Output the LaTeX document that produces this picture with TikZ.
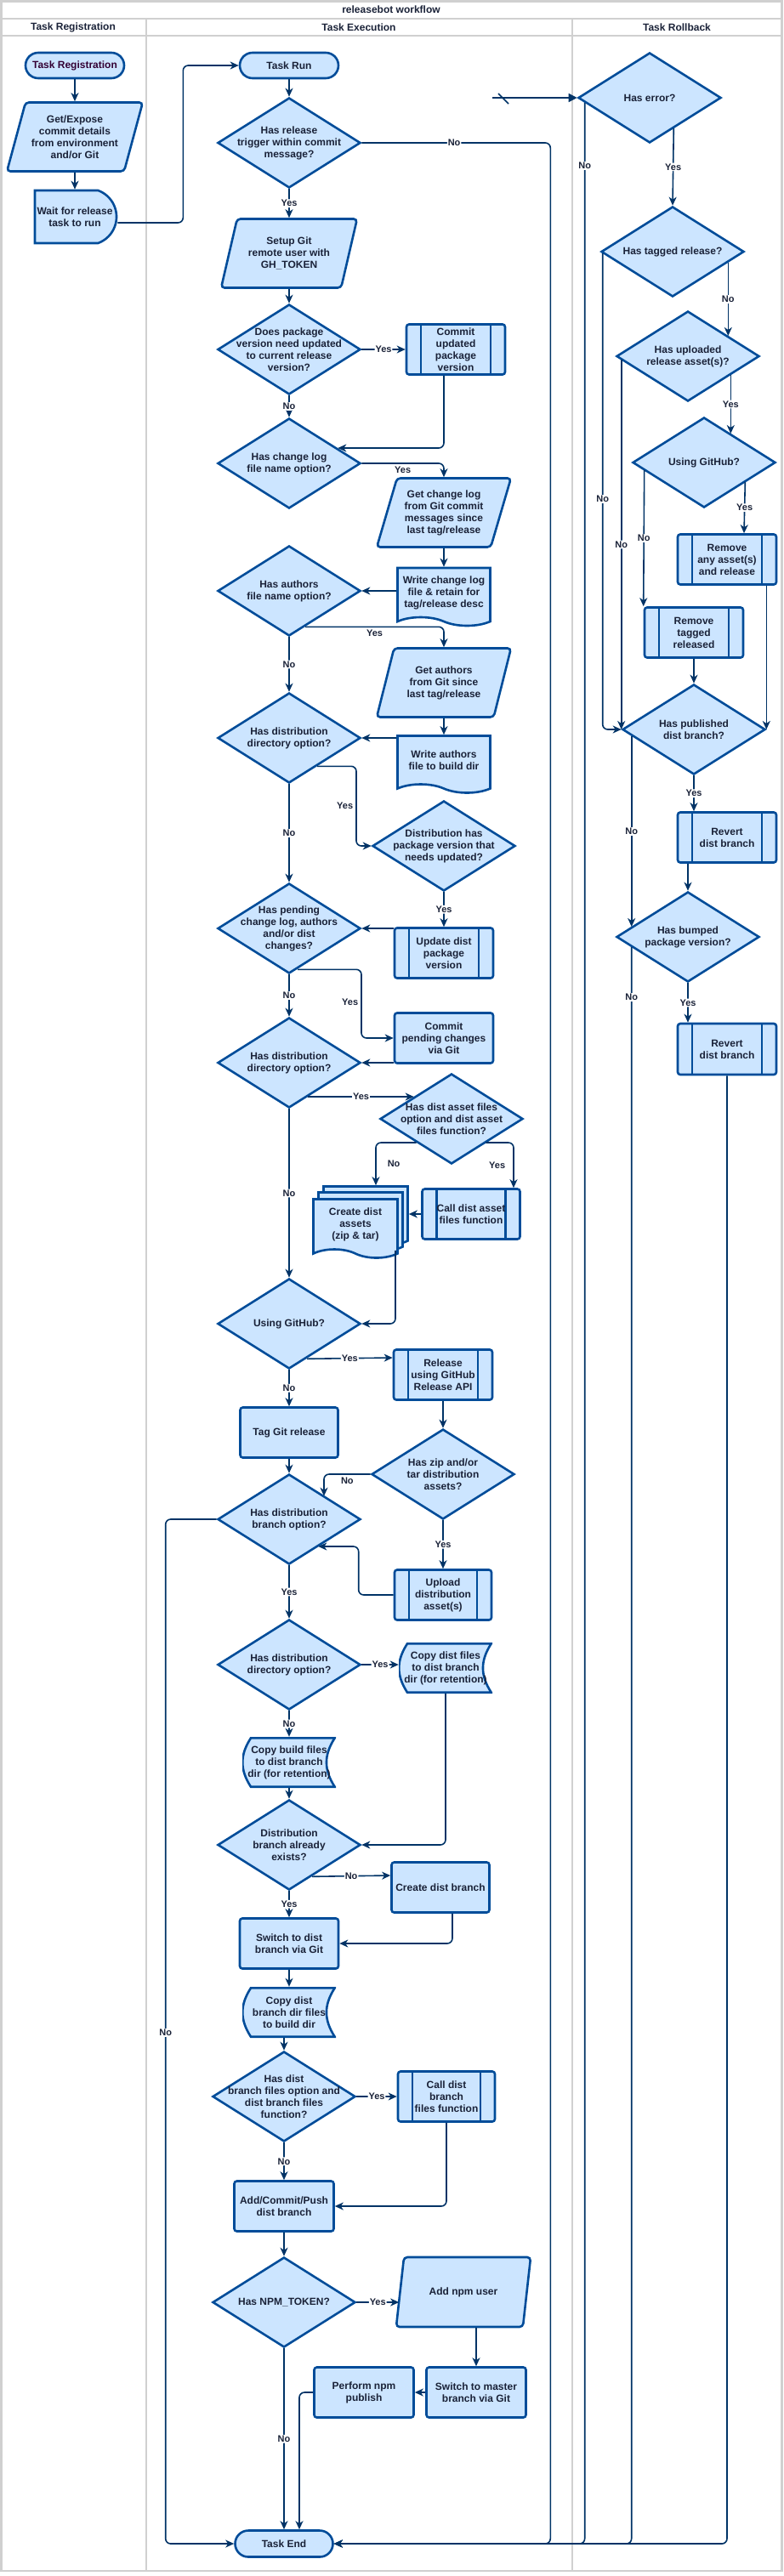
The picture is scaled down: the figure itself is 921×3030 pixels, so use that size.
\documentclass[tikz,border=0pt]{standalone}
\usepackage{fontspec}
\setmainfont{Liberation Sans}
\usetikzlibrary{calc,positioning,shapes.geometric,shapes.misc,shapes.symbols,arrows.meta}

\definecolor{nodefill}{HTML}{CCE5FF}
\definecolor{nodeline}{HTML}{004C99}
\definecolor{wirecol}{HTML}{003366}
\definecolor{textcol}{HTML}{1A2238}
\definecolor{startcol}{HTML}{330033}
\definecolor{lanegray}{HTML}{D0D0D0}

\newcommand{\flowfont}{\fontsize{12}{14}\selectfont\bfseries}
\newcommand{\edgefont}{\fontsize{11}{13}\selectfont\bfseries}

\tikzset{
  box/.style={draw=nodeline, fill=nodefill, line width=2.6pt, text=textcol, font=\flowfont, align=center, inner sep=2pt},
  terminal/.style={box, rounded rectangle, minimum width=120pt, minimum height=30pt},
  delaybox/.style={box, rounded rectangle, rounded rectangle left arc=none, rounded rectangle arc length=140, minimum width=100pt, minimum height=62pt},
  task/.style={box, rectangle, rounded corners=3pt, minimum width=116pt, minimum height=59pt},
  subtask/.style={task, path picture={
      \draw[nodeline, line width=2.6pt]
        ([xshift=17pt]path picture bounding box.north west) -- ([xshift=17pt]path picture bounding box.south west)
        ([xshift=-17pt]path picture bounding box.north east) -- ([xshift=-17pt]path picture bounding box.south east);}},
  datain/.style={box, trapezium, trapezium left angle=70, trapezium right angle=110, trapezium stretches=true, rounded corners=4pt, minimum width=160pt, minimum height=81pt},
  docbox/.style={box, tape, tape bend top=none, tape bend bottom=out and in, tape bend height=10pt, minimum width=109pt, minimum height=68pt},
  storebox/.style={rectangle, text=textcol, font=\flowfont, align=center, inner sep=2pt, minimum width=110pt, minimum height=60pt, path picture={
      \draw[draw=nodeline, fill=nodefill, line width=2.6pt]
        ([shift={(10pt,-1.3pt)}]path picture bounding box.north west) -- ([shift={(-1.3pt,-1.3pt)}]path picture bounding box.north east)
        .. controls +(-13pt,-20pt) and +(-13pt,20pt) .. ([shift={(-1.3pt,1.3pt)}]path picture bounding box.south east)
        -- ([shift={(10pt,1.3pt)}]path picture bounding box.south west)
        .. controls +(-13pt,20pt) and +(-13pt,-20pt) .. ([shift={(10pt,-1.3pt)}]path picture bounding box.north west) -- cycle;}},
  decision/.style={box, diamond, minimum width=168pt, minimum height=106pt, inner sep=0pt},
  qtext/.style={text=textcol, font=\flowfont, align=center},
  flow/.style={draw=wirecol, line width=1.6pt, rounded corners=6pt, -{Stealth[length=10pt,width=9pt,inset=3pt]}},
  wire/.style={draw=wirecol, line width=1.6pt},
  lbl/.style={fill=white, text=textcol, font=\edgefont, inner sep=1pt},
  lane/.style={draw=lanegray, line width=2.5pt},
  lanehead/.style={text=textcol, font=\flowfont},
}

\begin{document}
\begin{tikzpicture}[x=1pt, y=-1pt]

    \useasboundingbox (0,0) rectangle (921,3030);

    % swimlanes
    \draw[lane] (1.5,1.5) rectangle (919.5,3024);
    \draw[lane] (1.5,22) -- (919.5,22);
    \draw[lane] (1.5,42) -- (919.5,42);
    \draw[lane] (172,22) -- (172,3024);
    \draw[lane] (673,22) -- (673,3024);

    \node[lanehead] (title) at (460,11) {releasebot workflow};
    \node[lanehead] (hreg) at (86,32) {Task Registration};
    \node[lanehead] (hexec) at (422,32) {Task Execution};
    \node[lanehead] (hroll) at (796,32) {Task Rollback};

    % registration lane
    \node[terminal, text=startcol] (treg) at (88,77) {Task Registration};
    \node[datain] (getexp) at (88,161) {Get/Expose\\commit details\\from environment\\and/or Git};
    \node[delaybox] (waitrel) at (88,255) {Wait for release\\task to run};

    % execution lane
    \node[terminal] (taskrun) at (340,77) {Task Run};
    \node[decision, label={[qtext]center:{Has release\\trigger within commit\\message?}}] (q_trigger) at (340,168) {};
    \node[datain] (setupgit) at (340,298) {Setup Git\\remote user with\\GH\_TOKEN};
    \node[decision, label={[qtext]center:{Does package\\version need updated\\to current release\\version?}}] (q_pkgver) at (340,411) {};
    \node[subtask] (commitver) at (536,411) {Commit\\updated\\package\\version};
    \node[decision, label={[qtext]center:{Has change log\\file name option?}}] (q_changelog) at (340,545) {};
    \node[datain, minimum width=158pt] (getcl) at (522,603) {Get change log\\from Git commit\\messages since\\last tag/release};
    \node[docbox] (writecl) at (522,697) {Write change log\\file \& retain for\\tag/release desc};
    \node[decision, label={[qtext]center:{Has authors\\file name option?}}] (q_authors) at (340,695) {};
    \node[datain, minimum width=158pt] (getauth) at (522,803) {Get authors\\from Git since\\last tag/release};
    \node[docbox, minimum height=67pt] (writeauth) at (522,894) {Write authors\\file to build dir};
    \node[decision, label={[qtext]center:{Has distribution\\directory option?}}] (q_distdir) at (340,868) {};
    \node[decision, label={[qtext]center:{Distribution has\\package version that\\needs updated?}}] (q_distver) at (522,995) {};
    \node[decision, label={[qtext]center:{Has pending\\change log, authors\\and/or dist\\changes?}}] (q_pending) at (340,1092) {};
    \node[subtask] (updver) at (522,1121) {Update dist\\package\\version};
    \node[task] (commitpend) at (522,1221) {Commit\\pending changes\\via Git};
    \node[decision, label={[qtext]center:{Has distribution\\directory option?}}] (q_distdir2) at (340,1250) {};
    \node[decision, label={[qtext]center:{Has dist asset files\\option and dist asset\\files function?}}] (q_assets) at (531,1316) {};
    \node[docbox, minimum width=99pt, minimum height=69pt] (assetsback) at (430,1425) {};
    \node[docbox, minimum width=99pt, minimum height=69pt] (assetsmid) at (424,1432) {};
    \node[docbox, minimum width=99pt, minimum height=69pt] (createassets) at (418,1440) {Create dist\\assets\\(zip \& tar)};
    \node[subtask, minimum width=115pt] (callassets) at (554,1428) {Call dist asset\\files function};
    \node[decision, label={[qtext]center:{Using GitHub?}}] (q_github) at (340,1557) {};
    \node[subtask] (relapi) at (521,1617) {Release\\using GitHub\\Release API};
    \node[task, minimum width=115pt] (taggit) at (340,1685) {Tag Git release};
    \node[decision, label={[qtext]center:{Has zip and/or\\tar distribution\\assets?}}] (q_zip) at (521,1734) {};
    \node[decision, label={[qtext]center:{Has distribution\\branch option?}}] (q_distbranch) at (340,1787) {};
    \node[subtask, minimum width=114pt] (upload) at (521,1876) {Upload\\distribution\\asset(s)};
    \node[decision, label={[qtext]center:{Has distribution\\directory option?}}] (q_distdir3) at (340,1958) {};
    \node[storebox] (copydist) at (524,1962) {Copy dist files\\to dist branch\\dir (for retention)};
    \node[storebox] (copybuild) at (340,2073) {Copy build files\\to dist branch\\dir (for retention)};
    \node[decision, label={[qtext]center:{Distribution\\branch already\\exists?}}] (q_exists) at (340,2170) {};
    \node[task, minimum width=115pt] (createbranch) at (518,2220) {Create dist branch};
    \node[task] (switchdist) at (340,2286) {Switch to dist\\branch via Git};
    \node[storebox] (copydistdir) at (340,2367) {Copy dist\\branch dir files\\to build dir};
    \node[decision, label={[qtext]center:{Has dist\\branch files option and\\dist branch files\\function?}}] (q_branchfiles) at (334,2466) {};
    \node[subtask, minimum width=114pt] (callbranch) at (525,2466) {Call dist\\branch\\files function};
    \node[task, minimum width=117pt] (addcommit) at (334,2595) {Add/Commit/Push\\dist branch};
    \node[decision, label={[qtext]center:{Has NPM\_TOKEN?}}] (q_npm) at (334,2708) {};
    \node[datain, minimum width=159pt, minimum height=82pt] (addnpm) at (545,2696) {Add npm user};
    \node[task, minimum width=117pt] (switchmaster) at (560,2814) {Switch to master\\branch via Git};
    \node[task, minimum width=117pt] (performnpm) at (428,2814) {Perform npm\\publish};
    \node[terminal, minimum width=119pt, minimum height=31pt] (taskend) at (334,2992) {Task End};

    % rollback lane
    \node[decision, label={[qtext]center:{Has error?}}] (q_error) at (764,115) {};
    \node[decision, label={[qtext]center:{Has tagged release?}}] (q_tagged) at (791,296) {};
    \node[decision, label={[qtext]center:{Has uploaded\\release asset(s)?}}] (q_uploaded) at (809,419) {};
    \node[decision, label={[qtext]center:{Using GitHub?}}] (q_using) at (828,544) {};
    \node[subtask] (remove_assets) at (855,658) {Remove\\any asset(s)\\and release};
    \node[subtask] (remove_tag) at (816,744) {Remove\\tagged\\released};
    \node[decision, label={[qtext]center:{Has published\\dist branch?}}] (q_published) at (816,858) {};
    \node[subtask] (revert1) at (855,985) {Revert\\dist branch};
    \node[decision, label={[qtext]center:{Has bumped\\package version?}}] (q_bumped) at (809,1102) {};
    \node[subtask, minimum height=60pt] (revert2) at (855,1234) {Revert\\dist branch};

    % registration flow
    \draw[flow] (treg.south) -- (treg.south |- getexp.north);
    \draw[flow] (getexp.center |- getexp.south) -- (waitrel.north);
    \draw[flow] ($(waitrel.east)+(0,7)$) -- ++(77,0) |- (taskrun.west);

    % execution flow
    \draw[flow] (taskrun.south) -- (q_trigger.north);
    \draw[flow] (q_trigger.east) -- node[lbl, pos=0.49]{No} ++(222,0) |- (taskend.east);
    \draw[flow] (q_trigger.south) -- node[lbl]{Yes} (q_trigger.south |- setupgit.north);
    \draw[flow] (setupgit.center |- setupgit.south) -- (q_pkgver.north);
    \draw[flow] (q_pkgver.east) -- node[lbl]{Yes} (commitver.west);
    \draw[flow] (q_pkgver.south) -- node[lbl]{No} (q_changelog.north);
    \draw[flow] ($(commitver.south)+(-14,0)$) |- ($(q_changelog.east)+(-28,-18)$);
    \draw[flow] (q_changelog.east) -| node[lbl, pos=0.25, below=2pt, fill=none]{Yes} (getcl.center |- getcl.north);
    \draw[flow] (getcl.center |- getcl.south) -- (writecl.north);
    \draw[flow] (writecl.west |- q_authors.east) -- (q_authors.east);
    \draw[flow] (q_authors.south) -- node[lbl]{No} (q_distdir.north);
    \draw[flow] ($(q_authors.south)+(19,-12)$) -| node[lbl, pos=0.25, below=2pt, fill=none]{Yes} (getauth.center |- getauth.north);
    \draw[flow] (getauth.center |- getauth.south) -- (writeauth.north);
    \draw[flow] (writeauth.west |- q_distdir.east) -- (q_distdir.east);
    \draw[flow] ($(q_distdir.south)+(33,-21)$) -- ++(46,0) |- node[lbl, pos=0.25, left=2pt, fill=none]{Yes} (q_distver.west);
    \draw[flow] (q_distdir.south) -- node[lbl]{No} (q_pending.north);
    \draw[flow] (q_distver.south) -- node[lbl]{Yes} (updver.north);
    \draw[flow] (updver.west |- q_pending.east) -- (q_pending.east);
    \draw[flow] ($(q_pending.south)+(10,-6)$) -- ++(75,0) |- node[lbl, pos=0.24, left=2pt, fill=none]{Yes} (commitpend.west);
    \draw[flow] (q_pending.south) -- node[lbl]{No} (q_distdir2.north);
    \draw[flow] (commitpend.west |- q_distdir2.east) -- (q_distdir2.east);
    \draw[flow] ($(q_distdir2.east)+(-63,40)$) -- node[lbl]{Yes} ($(q_assets.west)+(41,-26)$);
    \draw[flow] (q_distdir2.south) -- node[lbl]{No} (q_github.north);
    \draw[flow] ($(q_assets.west)+(44,28)$) -| node[lbl, pos=0.75, right=12pt, fill=none]{No} ($(assetsback.north)+(12,0)$);
    \draw[flow] ($(q_assets.east)+(-45,28)$) -| node[lbl, pos=0.75, left=8pt, fill=none]{Yes} ($(callassets.north)+(50,0)$);
    \draw[flow] (callassets.west) -- (callassets.west -| assetsback.east);
    \draw[flow] ($(createassets.south)+(47,0)$) |- (q_github.east);
    \draw[flow] ($(q_github.south)+(21,-13)$) -- node[lbl]{Yes} ($(relapi.west)+(0,-20)$);
    \draw[flow] (q_github.south) -- node[lbl]{No} (taggit.north);
    \draw[flow] (relapi.south) -- (q_zip.north);
    \draw[flow] (taggit.south) -- (q_distbranch.north);
    \draw[flow] (q_zip.west) -| node[lbl, pos=0.25, below=2pt, fill=none]{No} ($(q_distbranch.north)+(41,27)$);
    \draw[flow] (q_zip.south) -- node[lbl]{Yes} (upload.north);
    \draw[flow] (upload.west) -- ++(-41,0) |- ($(q_distbranch.east)+(-51,32)$);
    \draw[flow] (q_distbranch.west) -| ++(-60,604) node[lbl]{No} |- (taskend.west);
    \draw[flow] (q_distbranch.south) -- node[lbl]{Yes} (q_distdir3.north);
    \draw[flow] (q_distdir3.east) -- node[lbl]{Yes} (q_distdir3.east -| copydist.west);
    \draw[flow] (copydist.south) |- (q_exists.east);
    \draw[flow] (q_distdir3.south) -- node[lbl]{No} (copybuild.north);
    \draw[flow] (copybuild.south) -- (q_exists.north);
    \draw[flow] ($(q_exists.south)+(27,-17)$) -- node[lbl]{No} ($(createbranch.west)+(0,-14)$);
    \draw[flow] (q_exists.south) -- node[lbl]{Yes} (switchdist.north);
    \draw[flow] ($(createbranch.south)+(14,0)$) |- (switchdist.east);
    \draw[flow] (switchdist.south) -- (copydistdir.north);
    \draw[flow] (q_branchfiles.north |- copydistdir.south) -- (q_branchfiles.north);
    \draw[flow] (q_branchfiles.east) -- node[lbl]{Yes} (callbranch.west);
    \draw[flow] (callbranch.south) |- (addcommit.east);
    \draw[flow] (q_branchfiles.south) -- node[lbl]{No} (addcommit.north);
    \draw[flow] (addcommit.south) -- (q_npm.north);
    \draw[flow] (q_npm.east) -- node[lbl]{Yes} (q_npm.east -| addnpm.west);
    \draw[flow] (switchmaster.north |- addnpm.south) -- (switchmaster.north);
    \draw[flow] (switchmaster.west) -- (performnpm.east);
    \draw[flow] (performnpm.west) -| ($(taskend.north)+(18,0)$);
    \draw[flow] (q_npm.south) -- node[lbl]{No} (taskend.north);

    % rollback flow
    \coordinate (errstart) at (579,115);
    \draw[flow, -{Triangle[length=10pt,width=10pt]}] (errstart) -- (q_error.west);
    \draw[wire] ($(errstart)+(7,-5)$) -- ++(12,12);
    \draw[flow] ($(q_error.west)+(9,6)$) -- ++(0,74) node[lbl]{No} |- (taskend.east);
    \draw[flow] ($(q_error.east)+(-57,36)$) -- node[lbl]{Yes} (q_tagged.north);
    \draw[flow] ($(q_tagged.east)+(-20,13)$) -- node[lbl]{No} ($(q_uploaded.east)+(-38,-24)$);
    \draw[flow] ($(q_tagged.west)+(3,2)$) -- ++(0,289) node[lbl]{No} |- (q_published.west);
    \draw[flow] ($(q_uploaded.east)+(-35,22)$) -- node[lbl]{Yes} ($(q_using.east)+(-54,-34)$);
    \draw[flow] ($(q_uploaded.west)+(7,4)$) -- node[lbl]{No} (q_published.west);
    \draw[flow] ($(q_using.east)+(-37,23)$) -- node[lbl]{Yes} ($(remove_assets.north)+(20,0)$);
    \draw[flow] ($(q_using.west)+(15,9)$) -- node[lbl]{No} (remove_tag.north west);
    \draw[flow] (q_published.east |- remove_assets.south) -- (q_published.east);
    \draw[flow] (remove_tag.south) -- (q_published.north);
    \draw[flow] (q_published.south) -- node[lbl]{Yes} (q_published.south |- revert1.north);
    \draw[flow] ($(q_published.west)+(12,8)$) -- node[lbl]{No} ($(q_bumped.west)+(19,-12)$);
    \draw[flow] (q_bumped.north |- revert1.south) -- (q_bumped.north);
    \draw[flow] (q_bumped.south) -- node[lbl]{Yes} (q_bumped.south |- revert2.north);
    \draw[flow] ($(q_bumped.west)+(19,12)$) -- ++(0,59) node[lbl]{No} |- (taskend.east);
    \draw[flow] (revert2.south) |- (taskend.east);

\end{tikzpicture}
\end{document}
